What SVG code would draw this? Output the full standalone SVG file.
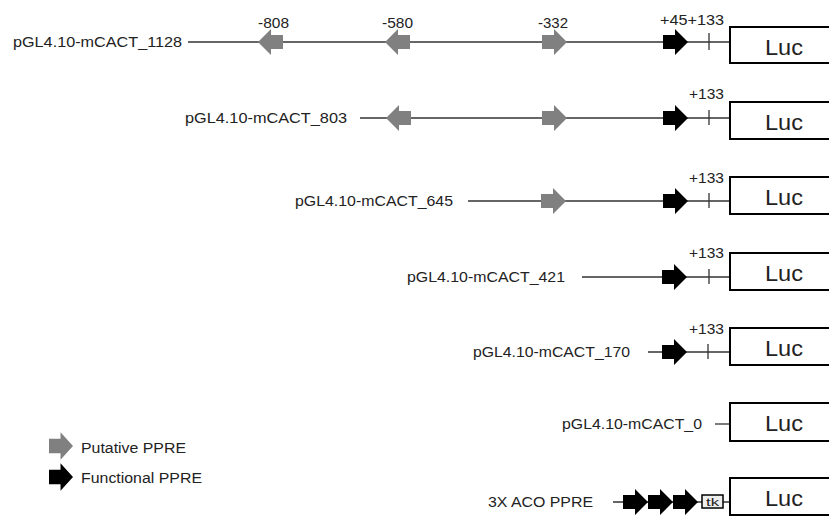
<svg xmlns="http://www.w3.org/2000/svg" xmlns:xlink="http://www.w3.org/1999/xlink" width="829" height="516" viewBox="0 0 829 516">
<style>
text{font-family:"Liberation Sans",Arial,sans-serif;fill:#222}
.lbl{font-size:15px}
.num{font-size:14px}
.luc{font-size:22px}
.bb{fill:#fff;stroke:#000;stroke-width:2}
.ln{stroke:#333;stroke-width:1.3;fill:none}
.tick{stroke:#333;stroke-width:1.3}
.g{fill:#808080}
.k{fill:#000}
</style>
<defs>
<path id="arr" d="M0,-7 H12 V-13 L25,0 L12,13 V7 H0 Z"/>
</defs>
<rect width="829" height="516" fill="#fff"/>
<g id="connectors">
<line class="ln" x1="188" y1="42" x2="730" y2="42"/>
<line class="ln" x1="360" y1="118" x2="730" y2="118"/>
<line class="ln" x1="468" y1="201" x2="730" y2="201"/>
<line class="ln" x1="582" y1="277" x2="730" y2="277"/>
<line class="ln" x1="648" y1="352" x2="730" y2="352"/>
<line class="ln" x1="715" y1="424" x2="730" y2="424"/>
<line class="ln" x1="613" y1="502" x2="730" y2="502"/>
</g>
<g id="row1">
<text class="lbl" x="13" y="47" textLength="169" lengthAdjust="spacingAndGlyphs">pGL4.10-mCACT_1128</text>
<use href="#arr" class="g" transform="translate(283,42) scale(-1,1)"/>
<use href="#arr" class="g" transform="translate(410,42) scale(-1,1)"/>
<use href="#arr" class="g" transform="translate(542,42)"/>
<use href="#arr" class="k" transform="translate(663,42)"/>
<line class="tick" x1="709" y1="33" x2="709" y2="50"/>
<text class="num" x="258" y="28" textLength="31" lengthAdjust="spacingAndGlyphs">-808</text>
<text class="num" x="382" y="28" textLength="31" lengthAdjust="spacingAndGlyphs">-580</text>
<text class="num" x="538" y="28" textLength="30" lengthAdjust="spacingAndGlyphs">-332</text>
<text class="num" x="660" y="25" textLength="64" lengthAdjust="spacingAndGlyphs">+45+133</text>
<rect class="bb" x="730" y="27" width="110" height="36"/>
<text class="luc" x="765" y="55" textLength="38" lengthAdjust="spacingAndGlyphs">Luc</text>
</g>
<g id="row2">
<text class="lbl" x="185" y="123" textLength="162" lengthAdjust="spacingAndGlyphs">pGL4.10-mCACT_803</text>
<use href="#arr" class="g" transform="translate(411,118) scale(-1,1)"/>
<use href="#arr" class="g" transform="translate(542,118)"/>
<use href="#arr" class="k" transform="translate(663,118)"/>
<line class="tick" x1="709" y1="110" x2="709" y2="125"/>
<text class="num" x="689" y="99" textLength="35" lengthAdjust="spacingAndGlyphs">+133</text>
<rect class="bb" x="730" y="102" width="110" height="37"/>
<text class="luc" x="765" y="130" textLength="38" lengthAdjust="spacingAndGlyphs">Luc</text>
</g>
<g id="row3">
<text class="lbl" x="295" y="206" textLength="158" lengthAdjust="spacingAndGlyphs">pGL4.10-mCACT_645</text>
<use href="#arr" class="g" transform="translate(541,201)"/>
<use href="#arr" class="k" transform="translate(663,201)"/>
<line class="tick" x1="709" y1="193" x2="709" y2="208"/>
<text class="num" x="689" y="183" textLength="35" lengthAdjust="spacingAndGlyphs">+133</text>
<rect class="bb" x="730" y="177" width="110" height="37"/>
<text class="luc" x="765" y="205" textLength="38" lengthAdjust="spacingAndGlyphs">Luc</text>
</g>
<g id="row4">
<text class="lbl" x="407" y="282" textLength="158" lengthAdjust="spacingAndGlyphs">pGL4.10-mCACT_421</text>
<use href="#arr" class="k" transform="translate(662,277)"/>
<line class="tick" x1="709" y1="269" x2="709" y2="284"/>
<text class="num" x="689" y="258" textLength="35" lengthAdjust="spacingAndGlyphs">+133</text>
<rect class="bb" x="730" y="253" width="110" height="37"/>
<text class="luc" x="765" y="281" textLength="38" lengthAdjust="spacingAndGlyphs">Luc</text>
</g>
<g id="row5">
<text class="lbl" x="473" y="357" textLength="157" lengthAdjust="spacingAndGlyphs">pGL4.10-mCACT_170</text>
<use href="#arr" class="k" transform="translate(662,352)"/>
<line class="tick" x1="708" y1="344" x2="708" y2="359"/>
<text class="num" x="689" y="334" textLength="35" lengthAdjust="spacingAndGlyphs">+133</text>
<rect class="bb" x="730" y="328" width="110" height="37"/>
<text class="luc" x="765" y="356" textLength="38" lengthAdjust="spacingAndGlyphs">Luc</text>
</g>
<g id="row6">
<text class="lbl" x="562" y="429" textLength="140" lengthAdjust="spacingAndGlyphs">pGL4.10-mCACT_0</text>
<rect class="bb" x="730" y="403" width="110" height="38"/>
<text class="luc" x="765" y="431" textLength="38" lengthAdjust="spacingAndGlyphs">Luc</text>
</g>
<g id="row7">
<text class="lbl" x="488" y="507" textLength="105" lengthAdjust="spacingAndGlyphs">3X ACO PPRE</text>
<use href="#arr" class="k" transform="translate(623,502)"/>
<use href="#arr" class="k" transform="translate(648,502)"/>
<use href="#arr" class="k" transform="translate(673,502)"/>
<rect x="702" y="495" width="21" height="13" fill="#eee" stroke="#000" stroke-width="1.5"/>
<text x="706" y="506" font-size="11" textLength="13" lengthAdjust="spacingAndGlyphs">tk</text>
<rect class="bb" x="730" y="478" width="110" height="37"/>
<text class="luc" x="765" y="506" textLength="38" lengthAdjust="spacingAndGlyphs">Luc</text>
</g>
<g id="legend">
<use href="#arr" class="g" transform="translate(49,446) scale(0.96,1.05)"/>
<text class="num" x="81" y="453" textLength="105" lengthAdjust="spacingAndGlyphs">Putative PPRE</text>
<use href="#arr" class="k" transform="translate(49,477) scale(0.96,1.05)"/>
<text class="num" x="81" y="483" textLength="121" lengthAdjust="spacingAndGlyphs">Functional PPRE</text>
</g>
</svg>
